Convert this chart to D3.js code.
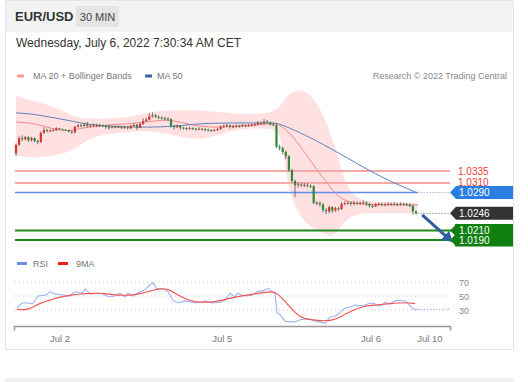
<!DOCTYPE html>
<html><head><meta charset="utf-8">
<script src="https://cdn.jsdelivr.net/npm/d3@7"></script>
<style>
html,body{margin:0;padding:0;background:#fff;}
svg{display:block;font-family:"Liberation Sans",Arial,sans-serif;}
</style></head>
<body>
<svg id="c" width="528" height="382"></svg>
<script>
// ---------- DATA ----------
const firstOpen = 1.0372;
const closes = [1.0390,1.0404,1.0402,1.0406,1.0400,1.0404,1.0398,1.0396,1.0415,1.0421,
1.0419,1.0420,1.0421,1.0425,1.0423,1.0422,1.0421,1.0418,1.0416,1.0428,
1.0431,1.0430,1.0433,1.0430,1.0430,1.0432,1.0430,1.0431,1.0430,1.0427,
1.0426,1.0428,1.0427,1.0428,1.0426,1.0427,1.0425,1.0430,1.0432,1.0426,
1.0434,1.0440,1.0443,1.0450,1.0452,1.0449,1.0447,1.0446,1.0445,1.0444,
1.0430,1.0427,1.0430,1.0426,1.0425,1.0424,1.0425,1.0424,1.0423,1.0424,
1.0423,1.0422,1.0421,1.0420,1.0421,1.0423,1.0428,1.0430,1.0431,1.0428,
1.0429,1.0430,1.0429,1.0431,1.0430,1.0431,1.0432,1.0433,1.0436,1.0435,
1.0439,1.0437,1.0433,1.0432,1.0386,1.0383,1.0375,1.0366,1.0337,1.0314,
1.0305,1.0307,1.0305,1.0306,1.0304,1.0303,1.0268,1.0268,1.0265,1.0253,
1.0250,1.0259,1.0252,1.0257,1.0255,1.0266,1.0267,1.0268,1.0266,1.0268,
1.0267,1.0268,1.0269,1.0266,1.0262,1.0261,1.0265,1.0266,1.0264,1.0265,
1.0266,1.0265,1.0266,1.0264,1.0266,1.0265,1.0264,1.0262,1.0250,1.0246];
const highs = [1.0393,1.0408,1.0410,1.0409,1.0408,1.0407,1.0406,1.0401,1.0418,1.0427,
1.0424,1.0423,1.0424,1.0427,1.0426,1.0424,1.0423,1.0422,1.0420,1.0430,
1.0434,1.0434,1.0436,1.0438,1.0433,1.0435,1.0434,1.0434,1.0433,1.0432,
1.0433,1.0430,1.0430,1.0431,1.0430,1.0430,1.0429,1.0432,1.0436,1.0434,
1.0437,1.0446,1.0447,1.0456,1.0458,1.0455,1.0452,1.0450,1.0449,1.0448,
1.0446,1.0432,1.0433,1.0431,1.0428,1.0427,1.0428,1.0427,1.0426,1.0427,
1.0426,1.0425,1.0424,1.0423,1.0424,1.0426,1.0431,1.0433,1.0434,1.0433,
1.0432,1.0433,1.0432,1.0434,1.0433,1.0434,1.0435,1.0436,1.0440,1.0439,
1.0444,1.0442,1.0439,1.0436,1.0435,1.0390,1.0386,1.0378,1.0368,1.0340,
1.0317,1.0311,1.0310,1.0310,1.0309,1.0307,1.0305,1.0272,1.0271,1.0267,
1.0257,1.0262,1.0261,1.0260,1.0260,1.0270,1.0271,1.0272,1.0271,1.0272,
1.0271,1.0271,1.0273,1.0271,1.0268,1.0265,1.0268,1.0269,1.0268,1.0268,
1.0270,1.0269,1.0269,1.0268,1.0269,1.0268,1.0268,1.0267,1.0264,1.0252];
const lows = [1.0366,1.0388,1.0398,1.0399,1.0396,1.0397,1.0395,1.0391,1.0394,1.0413,
1.0416,1.0417,1.0418,1.0419,1.0422,1.0421,1.0420,1.0416,1.0413,1.0414,
1.0426,1.0427,1.0428,1.0427,1.0427,1.0428,1.0427,1.0428,1.0427,1.0424,
1.0422,1.0424,1.0425,1.0425,1.0423,1.0424,1.0422,1.0423,1.0428,1.0421,
1.0425,1.0432,1.0438,1.0441,1.0447,1.0446,1.0444,1.0443,1.0441,1.0440,
1.0426,1.0422,1.0425,1.0421,1.0422,1.0421,1.0422,1.0421,1.0420,1.0421,
1.0420,1.0419,1.0418,1.0417,1.0418,1.0419,1.0421,1.0426,1.0427,1.0424,
1.0425,1.0426,1.0426,1.0427,1.0427,1.0428,1.0428,1.0429,1.0431,1.0432,
1.0433,1.0434,1.0430,1.0429,1.0383,1.0378,1.0370,1.0360,1.0333,1.0310,
1.0280,1.0300,1.0301,1.0301,1.0300,1.0299,1.0265,1.0263,1.0260,1.0248,
1.0244,1.0246,1.0247,1.0249,1.0251,1.0253,1.0263,1.0264,1.0262,1.0263,
1.0264,1.0264,1.0265,1.0262,1.0258,1.0257,1.0259,1.0262,1.0261,1.0261,
1.0262,1.0262,1.0262,1.0261,1.0262,1.0262,1.0261,1.0259,1.0243,1.0243];

// Bollinger / moving averages as [bar index, price]
const bbUpper = [[0,1.0493],[4.5,1.0484],[11,1.0474],[17.4,1.0453],[20.6,1.0446],[27,1.0444],[36.8,1.0448],[43,1.0459],[48,1.0463],[59,1.0463],[66,1.0459],[75.5,1.0453],[82.6,1.0457],[85,1.0469],[87.4,1.0495],[90,1.0505],[94,1.0503],[97,1.0478],[100.3,1.0436],[103.5,1.0373],[105,1.0337],[106.8,1.0301],[110,1.0278],[114,1.0270],[120.6,1.0270],[129.4,1.0268]];
const bbLower = [[0,1.0367],[6.8,1.0362],[14.2,1.0369],[19.7,1.0383],[23.9,1.0406],[30.3,1.0413],[40,1.0421],[46.5,1.0417],[53,1.0406],[59.4,1.0400],[65.8,1.0411],[72.3,1.0425],[82.6,1.0425],[85,1.0415],[86.5,1.0364],[87.7,1.0301],[90.6,1.0247],[94.8,1.0217],[99,1.0205],[101.3,1.0196],[103.5,1.0205],[105.5,1.0226],[108.7,1.0243],[114,1.0247],[120.6,1.0247],[129.4,1.0247]];
const ma20 = [[0,1.0438],[5.5,1.0436],[11,1.0425],[16.5,1.0417],[20.6,1.0425],[23.9,1.0427],[30.3,1.0432],[40,1.0436],[46.5,1.0442],[50.6,1.0442],[56,1.0432],[61.6,1.0427],[66.8,1.0427],[72.3,1.0430],[82.9,1.0434],[84.2,1.0436],[88.4,1.0415],[92.6,1.0379],[97.1,1.0337],[100.3,1.0310],[103.5,1.0283],[106.8,1.0270],[112,1.0264],[119.7,1.0264],[129.7,1.0264]];
const ma50 = [[0,1.0457],[5.5,1.0455],[11,1.0448],[16.5,1.0442],[20.6,1.0436],[27,1.0430],[37.7,1.0427],[46.5,1.0427],[56,1.0432],[61.6,1.0436],[82.9,1.0436],[84.2,1.0436],[88.4,1.0425],[94.8,1.0406],[103.5,1.0375],[112,1.0343],[119.7,1.0316],[129.4,1.0289]];

// Key levels
const resistLevels = [1.0335, 1.0310];
const pivotLevel = 1.0290;
const lastPrice = 1.0246;
const supportLevels = [1.0210, 1.0190];

// RSI panel [bar index, value]
const rsi = [[0.3,33],[1.9,40],[3.9,40],[5.5,39],[7.1,50],[9.4,51],[11,56],[12.6,53],[15.8,51],[17.4,50],[19,56],[21.3,54],[22.3,60],[23.9,53],[26.5,54],[28.1,53],[29.7,49],[31.9,50],[33.5,54],[35.2,49],[36.1,54],[37.7,50],[40,56],[41.6,59],[43.2,66],[44.2,69],[45.5,60],[47.4,60],[49,56],[50.6,44],[52.3,40],[54.5,43],[57.7,40],[59.4,41],[61,43],[63.2,40],[65.8,41],[67.4,44],[69,54],[70.6,49],[71.6,54],[72.9,51],[73.9,50],[76.1,51],[78.1,57],[79.4,57],[81.3,61],[82.6,56],[83.5,54],[84.2,26],[85.2,23],[86.8,14],[88.4,13],[90,13],[91.6,16],[93.2,17],[94.8,17],[96.5,14],[98.1,13],[99.7,11],[101.3,20],[102.9,21],[104.5,26],[106.1,33],[107.7,34],[109.4,37],[111,36],[112.6,37],[114.2,40],[115.8,39],[116.8,36],[118.1,37],[119,41],[120.6,39],[122.3,43],[123.9,44],[125.5,43],[127.1,36],[128.1,31],[129.7,31]];
const rsiMA = [[0.3,31],[2.9,30],[5.2,33],[7.7,40],[11,44],[14.2,49],[17.4,51],[20.6,53],[25.5,54],[28.7,54],[31.9,51],[36.8,51],[40,53],[43.2,57],[46.5,61],[49,60],[51.3,54],[54.5,46],[57.7,41],[62.6,41],[65.8,43],[69,47],[73.9,51],[78.1,54],[81.3,56],[83.5,56],[85.2,50],[88.4,34],[91.6,19],[94.8,16],[99.7,14],[102.9,16],[106.1,24],[109.4,31],[112.6,36],[115.8,37],[120.6,39],[125.5,41],[128.7,39]];
const rsiTicks = [70, 50, 30];

// Time axis labels at bar index
const timeLabels = ["Jul 2", "Jul 5", "Jul 6", "Jul 10"];
const timeIdx = [14.2, 66.5, 114.5, 133.5];

// ---------- DRAW ----------
const svg = d3.select("#c");
const X0 = 15, X1 = 450;

const x = d3.scaleLinear().domain([0, 129]).range([16, 416]);
const y = d3.scaleLinear().domain([1.0190, 1.0335]).range([240, 171]);
const yr = d3.scaleLinear().domain([0, 100]).range([331, 261]);

// card
svg.append("rect").attr("x",5.5).attr("y",0.5).attr("width",508).attr("height",349)
  .attr("fill","#fff").attr("stroke","#e2e6ea");
svg.append("rect").attr("x",6).attr("y",1).attr("width",507).attr("height",31).attr("fill","#f3f3f3");
svg.append("rect").attr("x",5).attr("y",378).attr("width",509).attr("height",4).attr("fill","#f0f0f0");

// header
svg.append("text").attr("x",15).attr("y",21).attr("font-size",13).attr("font-weight","bold")
  .attr("fill","#333").text("EUR/USD");
svg.append("rect").attr("x",76).attr("y",6).attr("width",43).attr("height",21).attr("fill","#e4e4e4");
svg.append("text").attr("x",97.5).attr("y",20.5).attr("font-size",11).attr("text-anchor","middle")
  .attr("fill","#444").text("30 MIN");
svg.append("text").attr("x",16).attr("y",47).attr("font-size",12).attr("fill","#333")
  .text("Wednesday, July 6, 2022 7:30:34 AM CET");

// legend
svg.append("rect").attr("x",17).attr("y",74.5).attr("width",7).attr("height",3).attr("fill","#f59a9a");
svg.append("text").attr("x",33).attr("y",79).attr("font-size",9).attr("fill","#777").text("MA 20 + Bollinger Bands");
svg.append("rect").attr("x",145).attr("y",74.5).attr("width",7).attr("height",3).attr("fill","#3a64a8");
svg.append("text").attr("x",157).attr("y",79).attr("font-size",9).attr("fill","#777").text("MA 50");
svg.append("text").attr("x",507).attr("y",79).attr("font-size",9).attr("fill","#888")
  .attr("text-anchor","end").text("Research © 2022 Trading Central");

// Bollinger band fill (upper edge forward, lower edge backward)
const lineGen = d3.line().x(d=>x(d[0])).y(d=>y(d[1])).curve(d3.curveBasis);
const upPath = lineGen(bbUpper);
const loPath = lineGen(bbLower.slice().reverse());
svg.append("path").attr("d", upPath + "L" + loPath.slice(1) + "Z")
  .attr("fill","#ffe1e1");

// level lines
resistLevels.forEach(v=>{
  svg.append("line").attr("x1",X0).attr("x2",X1).attr("y1",y(v)).attr("y2",y(v))
    .attr("stroke","#f7a8a8").attr("stroke-width",2);
});
svg.append("line").attr("x1",X0).attr("x2",x(129.5)).attr("y1",y(pivotLevel)).attr("y2",y(pivotLevel))
  .attr("stroke","#5d8ff0").attr("stroke-width",1.5);
svg.append("line").attr("x1",x(129.5)).attr("x2",X1).attr("y1",y(pivotLevel)).attr("y2",y(pivotLevel))
  .attr("stroke","#7a8fb8").attr("stroke-width",1).attr("stroke-dasharray","1,2");
supportLevels.forEach(v=>{
  svg.append("line").attr("x1",X0).attr("x2",X1+2).attr("y1",y(v)).attr("y2",y(v))
    .attr("stroke","#1b8a1b").attr("stroke-width",2);
});
svg.append("line").attr("x1",x(129.5)).attr("x2",X1).attr("y1",y(lastPrice)).attr("y2",y(lastPrice))
  .attr("stroke","#555").attr("stroke-width",1).attr("stroke-dasharray","1,2");

// MAs
svg.append("path").attr("d",lineGen(ma20)).attr("fill","none").attr("stroke","#f48a8a").attr("stroke-width",1);
svg.append("path").attr("d",lineGen(ma50)).attr("fill","none").attr("stroke","#5f7fbf").attr("stroke-width",1);

// candles
const candles = closes.map((c,i)=>({i, o: i===0?firstOpen:closes[i-1], c, h: highs[i], l: lows[i]}));
const g = svg.append("g");
g.selectAll("line.w").data(candles).join("line")
  .attr("x1",d=>x(d.i)).attr("x2",d=>x(d.i)).attr("y1",d=>y(d.h)).attr("y2",d=>y(d.l))
  .attr("stroke","#555").attr("stroke-width",0.8);
g.selectAll("rect.b").data(candles).join("rect")
  .attr("x",d=>x(d.i)-1.1).attr("width",2.2)
  .attr("y",d=>Math.min(y(d.o),y(d.c)))
  .attr("height",d=>Math.max(1,Math.abs(y(d.o)-y(d.c))))
  .attr("fill",d=>d.c>=d.o?"#d8332f":"#2f8a37");

// forecast arrow
const ax0 = x(131), ay0 = y(1.0243), ax1 = x(139), ay1 = y(1.0196);
svg.append("line").attr("x1",ax0).attr("y1",ay0).attr("x2",ax1).attr("y2",ay1)
  .attr("stroke","#2f5d9e").attr("stroke-width",3);
const ang = Math.atan2(ay1-ay0, ax1-ax0);
const tipX = x(140.8), tipY = y(1.0186);
const hl = 10, hw = 6;
const bx = tipX - hl*Math.cos(ang), by = tipY - hl*Math.sin(ang);
svg.append("path").attr("d",`M${tipX},${tipY}L${bx - hw*Math.sin(ang)},${by + hw*Math.cos(ang)}L${bx + hw*Math.sin(ang)},${by - hw*Math.cos(ang)}Z`)
  .attr("fill","#2f5d9e");

// right labels
function tag(v, color, h){
  const yy = y(v);
  svg.append("path").attr("d",`M${X1},${yy}L${X1+6},${yy-h/2}L513,${yy-h/2}L513,${yy+h/2}L${X1+6},${yy+h/2}Z`).attr("fill",color);
  svg.append("text").attr("x",X1+9).attr("y",yy+3.5).attr("font-size",10).attr("fill","#fff").text(v.toFixed(4));
}
resistLevels.forEach(v=>{
  svg.append("text").attr("x",458).attr("y",y(v)+3.5).attr("font-size",10).attr("fill","#f03a3a").text(v.toFixed(4));
});
tag(pivotLevel,"#2a7de1",13);
tag(lastPrice,"#333",13);
// support block
svg.append("rect").attr("x",X1+5).attr("y",y(supportLevels[0])-6.5).attr("width",513-X1-5)
  .attr("height",y(supportLevels[1])-y(supportLevels[0])+13).attr("fill","#0f800f");
supportLevels.forEach(v=>tag(v,"#0f800f",12));

// RSI legend
svg.append("rect").attr("x",17).attr("y",262).attr("width",10).attr("height",3).attr("fill","#6a8de0");
svg.append("text").attr("x",33).attr("y",267).attr("font-size",9).attr("fill","#777").text("RSI");
svg.append("rect").attr("x",58).attr("y",262).attr("width",10).attr("height",3).attr("fill","#f01c1c");
svg.append("text").attr("x",76).attr("y",267).attr("font-size",9).attr("fill","#777").text("9MA");

// RSI grid
rsiTicks.forEach(t=>{
  svg.append("line").attr("x1",X0).attr("x2",X1).attr("y1",yr(t)).attr("y2",yr(t))
    .attr("stroke","#c8c8c8").attr("stroke-width",1).attr("stroke-dasharray","1,3");
  svg.append("text").attr("x",459).attr("y",yr(t)+3.5).attr("font-size",9).attr("fill","#888").text(t);
});
const rl = d3.line().x(d=>x(d[0])).y(d=>yr(d[1]));
svg.append("path").attr("d",rl(rsi)).attr("fill","none").attr("stroke","#9cb2f2").attr("stroke-width",1.1);
svg.append("line").attr("x1",x(129.7)).attr("x2",X1).attr("y1",yr(31)).attr("y2",yr(31))
  .attr("stroke","#7f9ae8").attr("stroke-width",1).attr("stroke-dasharray","1,2");
svg.append("path").attr("d",d3.line().x(d=>x(d[0])).y(d=>yr(d[1])).curve(d3.curveBasis)(rsiMA))
  .attr("fill","none").attr("stroke","#f25555").attr("stroke-width",1.2);

// time axis
const axG = svg.append("g").attr("transform","translate(0,326.5)");
axG.append("path").attr("d",`M${X0-0.5},4V0H${X1+0.5}V4`).attr("fill","none").attr("stroke","#999").attr("stroke-width",1.5);
timeLabels.forEach((t,k)=>{
  axG.append("text").attr("x",x(timeIdx[k])).attr("y",15).attr("font-size",9.5).attr("fill","#777")
    .attr("text-anchor","middle").text(t);
});
</script>
</body></html>
